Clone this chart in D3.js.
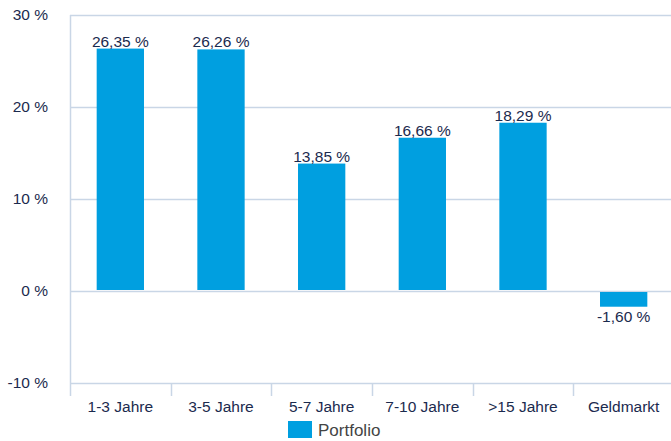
<!DOCTYPE html>
<html>
<head>
<meta charset="utf-8">
<script src="https://cdn.jsdelivr.net/npm/d3@7"></script>
<style>
  html, body { margin: 0; padding: 0; background: #fff; }
  svg { display: block; font-family: "Liberation Sans", Arial, Helvetica, sans-serif; }
</style>
</head>
<body>
<svg id="chart" width="671" height="441"></svg>
<script>
// Portfolio allocation by maturity bucket (percent)
const categories = ["1-3 Jahre", "3-5 Jahre", "5-7 Jahre", "7-10 Jahre", ">15 Jahre", "Geldmarkt"];
const portfolio = [26.35, 26.26, 13.85, 16.66, 18.29, -1.60];
const yTicks = [-10, 0, 10, 20, 30];
const seriesName = "Portfolio";

const fmt = v => v.toFixed(2).replace(".", ",") + " %";
const tickFmt = v => v + " %";

const W = 671, H = 441;
const margin = { left: 70, right: -3, top: 15, bottom: 58 };
const svg = d3.select("#chart");

const x = d3.scaleBand()
  .domain(categories)
  .range([margin.left, W - margin.right])
  .paddingInner(0.53)
  .paddingOuter(0.265);

const y = d3.scaleLinear()
  .domain([-10, 30])
  .range([H - margin.bottom, margin.top]);

const gridColor = "#c9d6e6";
const textColor = "#1b2a4e";

// horizontal gridlines
svg.append("g")
  .selectAll("line")
  .data(yTicks)
  .join("line")
  .attr("x1", margin.left)
  .attr("x2", W)
  .attr("y1", d => Math.round(y(d)) + 0.5)
  .attr("y2", d => Math.round(y(d)) + 0.5)
  .attr("stroke", gridColor)
  .attr("stroke-width", 1.5);

// y axis labels
const yAxis = d3.axisLeft(y).tickValues(yTicks).tickFormat(tickFmt).tickSize(0).tickPadding(22);
const gy = svg.append("g")
  .attr("transform", `translate(${margin.left},0)`)
  .call(yAxis);
gy.select(".domain").remove();
gy.selectAll("text")
  .attr("fill", textColor)
  .attr("font-size", "15.5px")
  .attr("font-family", "Liberation Sans, Arial, sans-serif");

// left axis line
svg.append("line")
  .attr("x1", margin.left + 0.5).attr("x2", margin.left + 0.5)
  .attr("y1", y(30)).attr("y2", y(-10) + 13)
  .attr("stroke", gridColor).attr("stroke-width", 1.5);

// x axis: band boundary ticks and labels
const step = x.step();
const bandStart = categories.map(c => x(c) - x.paddingOuter() * step);
const gx = svg.append("g");
gx.selectAll("line")
  .data(bandStart.slice(1))
  .join("line")
  .attr("x1", d => Math.round(d) + 0.5)
  .attr("x2", d => Math.round(d) + 0.5)
  .attr("y1", y(-10))
  .attr("y2", y(-10) + 13)
  .attr("stroke", gridColor)
  .attr("stroke-width", 1.5);

gx.selectAll("text")
  .data(categories)
  .join("text")
  .attr("x", d => x(d) + x.bandwidth() / 2)
  .attr("y", y(-10) + 29)
  .attr("text-anchor", "middle")
  .attr("fill", textColor)
  .attr("font-size", "15.5px")
  .text(d => d);

// bars
const barColor = "#009fe0";
svg.append("g")
  .selectAll("rect")
  .data(categories.map((c, i) => ({ c, v: portfolio[i] })))
  .join("rect")
  .attr("x", d => x(d.c))
  .attr("width", x.bandwidth())
  .attr("y", d => d.v >= 0 ? y(d.v) : y(0) + 1)
  .attr("height", d => Math.abs(y(d.v) - y(0)) - (d.v >= 0 ? 1 : 0))
  .attr("fill", barColor);

// value labels
svg.append("g")
  .selectAll("text")
  .data(categories.map((c, i) => ({ c, v: portfolio[i] })))
  .join("text")
  .attr("x", d => x(d.c) + x.bandwidth() / 2)
  .attr("y", d => d.v >= 0 ? y(d.v) - 2 : y(d.v) + 16)
  .attr("text-anchor", "middle")
  .attr("fill", textColor)
  .attr("font-size", "15.5px")
  .text(d => fmt(d.v));

// legend
const lg = svg.append("g").attr("transform", "translate(288,421)");
lg.append("rect").attr("width", 24).attr("height", 17).attr("fill", barColor);
lg.append("text")
  .attr("x", 30).attr("y", 14.5)
  .attr("fill", "#444")
  .attr("font-size", "17px")
  .text(seriesName);
</script>
</body>
</html>
